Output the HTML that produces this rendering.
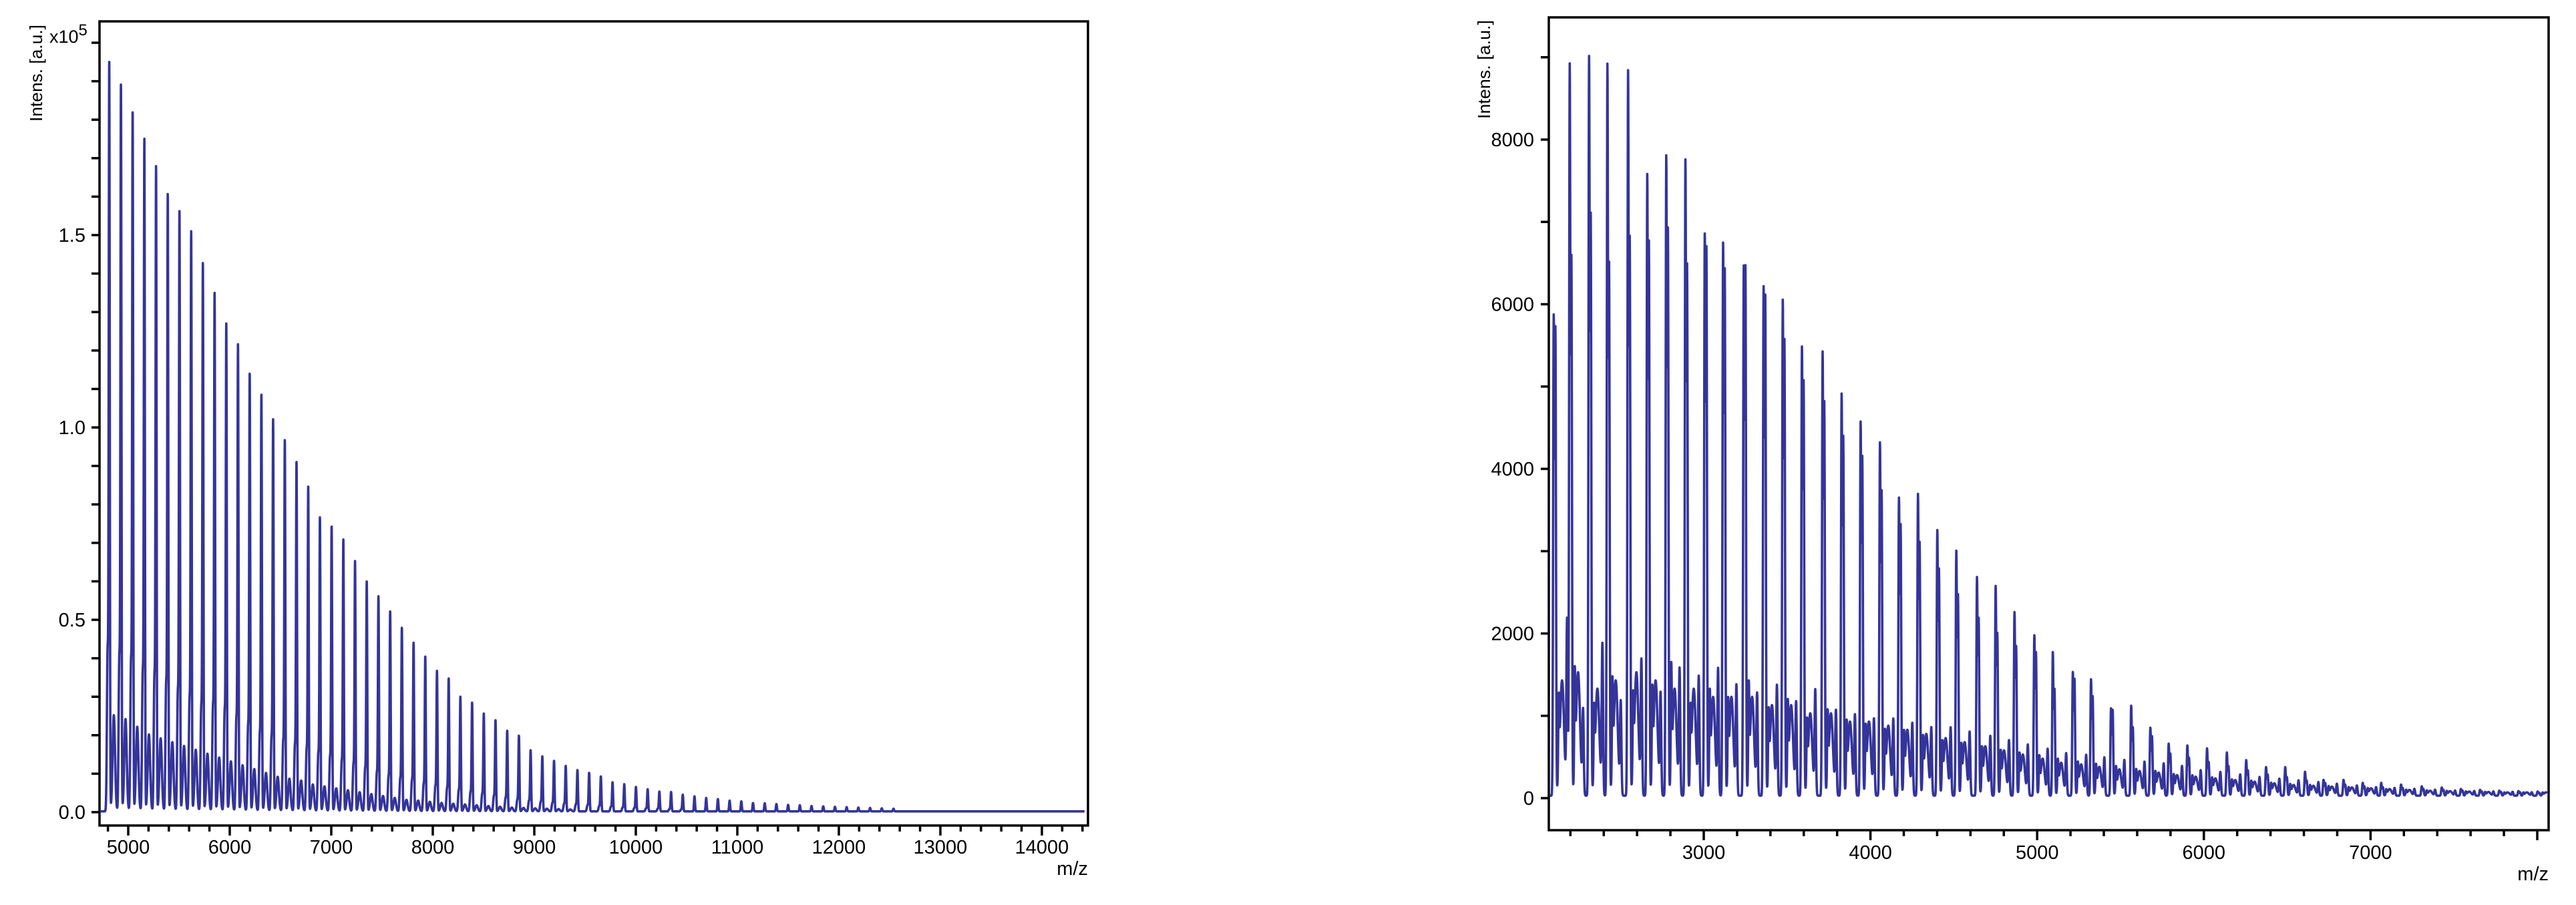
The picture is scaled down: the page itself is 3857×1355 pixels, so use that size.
<!DOCTYPE html>
<html><head><meta charset="utf-8"><style>
html,body{margin:0;padding:0;background:#fff;}
svg{display:block;font-family:"Liberation Sans",Arial,sans-serif;}
</style></head><body>
<svg id="chart" width="3857" height="1355" viewBox="0 0 3857 1355" xmlns="http://www.w3.org/2000/svg">
<rect x="0" y="0" width="3857" height="1355" fill="#fff"/>
<g id="left"></g>
<g id="right"></g>
</svg>
<script>
// ---- Left spectrum data (intensity in x10^5) ----
const leftStart = 4813;
const leftSpacing = 115.3;
const leftMain = [1.917,1.86,1.795,1.723,1.651,1.584,1.540,1.486,1.407,1.332,1.249,1.197,1.126,1.069,1.005,0.954,0.897,0.832,0.754,0.732,0.697,0.642,0.592,0.552,0.513,0.472,0.433,0.397,0.361,0.342,0.294,0.279,0.252,0.234,0.207,0.195,0.157,0.141,0.130,0.117,0.106,0.099,0.090,0.075,0.070,0.063,0.057,0.051,0.050,0.043,0.039,0.035,0.032,0.028,0.026,0.022,0.021,0.019,0.017,0.016,0.014,0.013,0.012,0.011,0.010,0.009,0.008,0.007];
const leftSat = [0.42,0.40,0.39,0.36,0.35,0.33,0.31,0.29,0.27,0.27,0.26,0.24,0.22,0.20,0.19,0.18,0.17,0.16,0.15,0.14,0.13,0.12,0.11,0.10,0.09,0.085,0.08,0.07,0.065,0.06,0.055,0.05,0.045,0.04,0.035,0.03,0.028,0.025,0.022,0.02,0.018,0.016,0.014,0.012,0.01,0.009,0.008,0.007,0.006,0.005];
const leftBg = [0.25,0.24,0.22,0.2,0.19,0.18,0.17,0.16,0.15,0.14,0.13,0.12,0.11,0.10,0.09,0.085,0.08,0.07,0.065,0.06,0.055,0.05,0.045,0.04,0.035,0.03,0.028,0.025,0.022,0.02,0.018,0.016,0.014,0.012,0.01,0.009,0.008,0.007,0.006,0.005];
const leftXTicks = ["5000","6000","7000","8000","9000","10000","11000","12000","13000","14000"];
const leftYTicks = ["0.0","0.5","1.0","1.5"];

// ---- Right spectrum data (intensity a.u.) ----
const rightPos = [2100,2196,2312,2422,2546,2661,2775,2890,3006,3116,3240,3359,3474,3589,3713,3827,3941,4057,4171,4285,4401,4515,4639,4751,4864,4983,5094,5214,5323,5443,5564,5679,5789,5901,6019,6138,6254,6373,6488,6607,6718,6838,6953,7064,7183,7307,7427,7542,7657,7772,7887,8002];
const rightMain = [5751,8785,8869,8785,8700,7440,7664,7622,6718,6613,6333,6088,5933,5373,5317,4812,4476,4231,3566,3615,3180,2935,2620,2515,2200,1919,1723,1478,1394,1044,1079,813,623,602,567,518,427,343,343,287,189,189,154,154,133,112,98,80,70,60,55,50];
const rightDoublet = [5600,6417,6928,6333,6650,6613,6767,6333,6557,6291,6333,5980,5443,4953,4700,4287,4049,3636,3236,3019,2704,2396,2116,1933,1779,1709,1268,1394,1184,1023,813,708,500,450,400,350,300,250,220,180,150,130,110,100,90,80,70,60,50,45,40,35];
const rightBg = [1400,1500,1300,1400,1500,1400,1300,1300,1200,1200,1200,1100,1100,1000,1000,900,900,850,800,750,700,650,600,550,500,450,400,380,350,320,300,280,250,230,210,190,170,150,130,120,110,100,90,80,70,60,55,50,45,40,40,40];
const rightBg2 = [2100,1000,1800,1100,1600,1200,1500,1400,1500,1300,1200,1300,1100,1250,1000,950,900,900,850,800,800,750,700,650,600,550,500,480,450,420,400,380,350,300,280,250,220,200,180,160,140,120,100,90,80,70,60,55,50,45,40,35];
const rightBg3 = [900,1200,800,1100,900,1000,1300,800,1000,900,1100,800,900,700,800,700,650,600,600,550,500,480,450,420,400,380,350,320,300,280,250,230,200,190,170,150,140,120,110,100,90,80,70,60,55,50,45,40,35,30,30,30];
const rightXTicks = ["3000","4000","5000","6000","7000"];
const rightYTicks = ["0","2000","4000","6000","8000"];

const NS = "http://www.w3.org/2000/svg";
function mk(tag, attrs, parent){
  const e = document.createElementNS(NS, tag);
  for (const k in attrs) e.setAttribute(k, attrs[k]);
  parent.appendChild(e); return e;
}
const COLOR = "#34349a";
const FS = 29;
const g = (mz, c, s) => Math.exp(-0.5*((mz-c)/s)*((mz-c)/s));

// ===== LEFT =====
(function(){
  const P = document.getElementById('left');
  const L=149, T=32, R=1629, B=1236;
  const X = v => 192 + (v-5000)*0.152;
  const Y = v => 1216 - v*576;
  const fr = mk('rect',{x:L,y:T,width:R-L,height:B-T,fill:'none',stroke:'#000','stroke-width':3.5},P);
  
  
  let d = "";
  for (let mz = 4720; mz <= 14420; mz += 1) {
    let v = 0.002;
    for (let i=0;i<leftMain.length;i++){
      const c = leftStart + leftSpacing*i;
      if (Math.abs(mz-c) > 80) continue;
      v += leftMain[i]*g(mz,c,5);
      if (i<leftSat.length) v += leftSat[i]*g(mz,c-16,7);
      if (i<leftBg.length) v += leftBg[i]*g(mz,c+45,12);
    }
    d += (d?"L":"M") + X(mz).toFixed(2) + "," + Y(v).toFixed(2);
  }
  const line = mk('path',{d:d,fill:'none',stroke:COLOR,'stroke-width':3.6,'stroke-linejoin':'round'},P);
  
  
  for (let k=0;k<=20;k++){
    const t = mk('line',{x1:L-12,x2:L,y1:Y(k/10),y2:Y(k/10),stroke:'#000','stroke-width':3.5},P);
    
    
  }
  leftYTicks.forEach(s=>{
    const t = mk('text',{x:128,y:Y(parseFloat(s))+10,'font-size':FS,'text-anchor':'end'},P);
    t.textContent = s;
    
    
  });
  for (let v=4800; v<=14400; v+=200){
    const major = v%1000===0;
    const t = mk('line',{x1:X(v),x2:X(v),y1:B,y2:B+(major?15:9),stroke:'#000','stroke-width':3.5},P);
    
    
  }
  leftXTicks.forEach(s=>{
    const t = mk('text',{x:X(parseFloat(s)),y:1278,'font-size':FS,'text-anchor':'middle'},P);
    t.textContent = s;
    
    
  });
  const xl = mk('text',{x:R,y:1310,'font-size':FS,'text-anchor':'end'},P);
  xl.textContent = "m/z";
  
  
  const yl = mk('text',{x:0,y:0,'font-size':26,'text-anchor':'end',transform:'translate(63,37) rotate(-90)',textLength:145,lengthAdjust:'spacingAndGlyphs'},P);
  yl.textContent = "Intens. [a.u.]";
  
  
  const ex = mk('text',{x:74,y:64,'font-size':27},P);
  ex.textContent = "x10";
  
  
  const sup = mk('tspan',{dy:-11,'font-size':24},ex);
  sup.textContent = "5";
})();

// ===== RIGHT =====
(function(){
  const P = document.getElementById('right');
  const L=2319, T=26, R=3816, B=1243;
  const X = v => 2551 + (v-3000)*0.2496;
  const Y = v => 1195 - v*0.12325;
  const fr = mk('rect',{x:L,y:T,width:R-L,height:B-T,fill:'none',stroke:'#000','stroke-width':3.5},P);
  
  
  let d = "";
  for (let mz = 2076; mz <= 8060; mz += 1) {
    let v = 30;
    for (let i=0;i<rightPos.length;i++){
      const c = rightPos[i];
      if (Math.abs(mz-c) > 120) continue;
      v += rightMain[i]*g(mz,c,3.5);
      v += rightDoublet[i]*g(mz,c+10,3.5);
      v += rightBg[i]*g(mz,c+50,12);
      v += rightBg2[i]*g(mz,c+80,4);
      v += rightBg3[i]*g(mz,c+30,3);
    }
    d += (d?"L":"M") + X(mz).toFixed(2) + "," + Y(v).toFixed(2);
  }
  const line = mk('path',{d:d,fill:'none',stroke:COLOR,'stroke-width':3.6,'stroke-linejoin':'round'},P);
  
  
  for (let v=0; v<=9000; v+=1000){
    const t = mk('line',{x1:L-12,x2:L,y1:Y(v),y2:Y(v),stroke:'#000','stroke-width':3.5},P);
    
    
  }
  rightYTicks.forEach(s=>{
    const t = mk('text',{x:2297,y:Y(parseFloat(s))+10,'font-size':FS,'text-anchor':'end'},P);
    t.textContent = s;
    
    
  });
  for (let v=2200; v<=8000; v+=200){
    const major = v%1000===0;
    const t = mk('line',{x1:X(v),x2:X(v),y1:B,y2:B+(major?15:9),stroke:'#000','stroke-width':3.5},P);
    
    
  }
  rightXTicks.forEach(s=>{
    const t = mk('text',{x:X(parseFloat(s)),y:1286,'font-size':FS,'text-anchor':'middle'},P);
    t.textContent = s;
    
    
  });
  const xl = mk('text',{x:R,y:1318,'font-size':FS,'text-anchor':'end'},P);
  xl.textContent = "m/z";
  
  
  const yl = mk('text',{x:0,y:0,'font-size':26,'text-anchor':'end',transform:'translate(2231,30) rotate(-90)',textLength:148,lengthAdjust:'spacingAndGlyphs'},P);
  yl.textContent = "Intens. [a.u.]";
  
  
})();
</script>
</body></html>
